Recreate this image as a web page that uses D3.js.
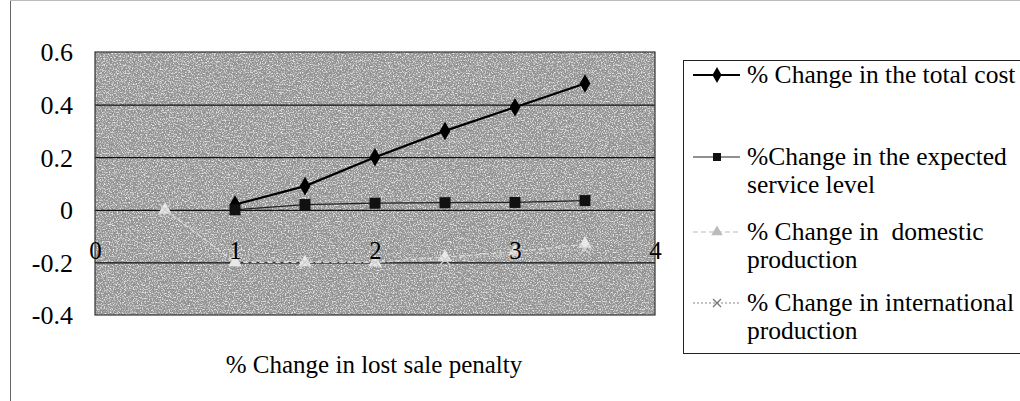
<!DOCTYPE html>
<html>
<head>
<meta charset="utf-8">
<script src="https://cdn.jsdelivr.net/npm/d3@7"></script>
<style>
  html, body { margin: 0; padding: 0; background: #fff; }
  svg { display: block; font-family: "Liberation Serif", "Times New Roman", serif; }
</style>
</head>
<body>
<svg id="chart" width="1020" height="401"></svg>
<script>
// Sensitivity of results to the lost sale penalty
const xValues       = [0.5, 1, 1.5, 2, 2.5, 3, 3.5];
const totalCost     = [null, 0.02, 0.09, 0.2, 0.3, 0.39, 0.48];
const serviceLevel  = [null, 0, 0.02, 0.025, 0.027, 0.028, 0.035];
const domestic      = [0, -0.2, -0.2, -0.2, -0.18, -0.16, -0.13];
const international = [0, -0.17, -0.2, -0.2, -0.19, -0.17, -0.15];

const xTicks = [0, 1, 2, 3, 4];
const yTicks = [-0.4, -0.2, 0, 0.2, 0.4, 0.6];

const seriesNames = [
  ["% Change in the total cost"],
  ["%Change in the expected", "service level"],
  ["% Change in  domestic", "production"],
  ["% Change in international", "production"]
];

const svg = d3.select("#chart");
const plot = { left: 95, right: 655, top: 52, bottom: 315 };

const x = d3.scaleLinear().domain([0, 4]).range([plot.left, plot.right]);
const y = d3.scaleLinear().domain([-0.4, 0.6]).range([plot.bottom, plot.top]);

// speckled gray texture for the plot area
const defs = svg.append("defs");
const f = defs.append("filter").attr("id", "grain")
  .attr("x", 0).attr("y", 0).attr("width", 1).attr("height", 1);
f.append("feTurbulence").attr("type", "fractalNoise")
  .attr("baseFrequency", 0.75).attr("numOctaves", 2).attr("seed", 7).attr("result", "n");
f.append("feColorMatrix").attr("in", "n").attr("type", "matrix")
  .attr("values", "0 0 0 0 0.3  0 0 0 0 0.3  0 0 0 0 0.3  3.2 0 0 0 -1.45")
  .attr("result", "dark");
f.append("feColorMatrix").attr("in", "n").attr("type", "matrix")
  .attr("values", "0 0 0 0 0.82  0 0 0 0 0.82  0 0 0 0 0.82  -3.2 0 0 0 1.75")
  .attr("result", "light");
f.append("feMerge").selectAll("feMergeNode")
  .data(["SourceGraphic", "dark", "light"]).enter()
  .append("feMergeNode").attr("in", d => d);

// outer chart frame edges
svg.append("line").attr("x1", 10.5).attr("x2", 10.5).attr("y1", 0).attr("y2", 401)
  .attr("stroke", "#666").attr("stroke-width", 1);
svg.append("line").attr("x1", 10).attr("x2", 1020).attr("y1", 0.5).attr("y2", 0.5)
  .attr("stroke", "#bbb").attr("stroke-width", 1);

svg.append("rect")
  .attr("x", plot.left).attr("y", plot.top)
  .attr("width", plot.right - plot.left).attr("height", plot.bottom - plot.top)
  .attr("fill", "#8e8e8e").attr("filter", "url(#grain)");

// horizontal gridlines
svg.append("g")
  .attr("transform", `translate(${plot.left},0)`)
  .call(d3.axisLeft(y).tickValues(yTicks.filter(v => v > -0.4 && v < 0.6))
    .tickSize(-(plot.right - plot.left)).tickFormat(""))
  .call(g => g.select(".domain").remove())
  .call(g => g.selectAll("line").attr("stroke", "#111").attr("stroke-width", 1.2));

// plot border
svg.append("rect")
  .attr("x", plot.left).attr("y", plot.top)
  .attr("width", plot.right - plot.left).attr("height", plot.bottom - plot.top)
  .attr("fill", "none").attr("stroke", "#333").attr("stroke-width", 1.2);

// y axis labels
svg.append("g")
  .attr("transform", `translate(${plot.left - 20},0)`)
  .call(d3.axisLeft(y).tickValues(yTicks).tickSize(0).tickFormat(d => d === 0 ? "0" : d.toFixed(1)))
  .call(g => g.select(".domain").remove())
  .call(g => g.selectAll("text")
    .attr("font-family", "Liberation Serif").attr("font-size", 26).attr("fill", "#000")
    .attr("dy", "0.34em").attr("x", -2));

const series = [
  { values: totalCost,     color: "#000",  width: 2.2, dash: null,  marker: "diamond",  mcolor: "#000" },
  { values: serviceLevel,  color: "#222",  width: 1.3, dash: null,  marker: "square",   mcolor: "#111" },
  { values: domestic,      color: "#dcdcdc", width: 1.2, dash: "5,3", marker: "triangle", mcolor: "#e8e8e8" },
  { values: international, color: "#c4c4c4", width: 1.1, dash: "2,2", marker: "cross",    mcolor: "#cfcfcf" }
];

const line = d3.line().defined(d => d[1] !== null).x(d => x(d[0])).y(d => y(d[1]));

function drawMarker(sel, kind, color, size) {
  if (kind === "diamond") {
    sel.append("path").attr("d", d3.symbol(d3.symbolDiamond, size * 9)()).attr("fill", color);
  } else if (kind === "square") {
    sel.append("rect").attr("x", -size / 2).attr("y", -size / 2)
      .attr("width", size).attr("height", size).attr("fill", color);
  } else if (kind === "triangle") {
    sel.append("path").attr("d", d3.symbol(d3.symbolTriangle, size * 7)()).attr("fill", color);
  } else {
    sel.append("path").attr("d", `M${-size/2},${-size/2}L${size/2},${size/2}M${-size/2},${size/2}L${size/2},${-size/2}`)
      .attr("stroke", color).attr("stroke-width", 1.3).attr("fill", "none");
  }
}

// series in legend order, later ones drawn over earlier ones
series.forEach(s => {
  const pts = xValues.map((xv, j) => [xv, s.values[j]]);
  const g = svg.append("g");
  g.append("path").datum(pts).attr("d", line)
    .attr("fill", "none").attr("stroke", s.color).attr("stroke-width", s.width)
    .attr("stroke-dasharray", s.dash);
  g.selectAll("g.m").data(pts.filter(d => d[1] !== null)).enter().append("g")
    .attr("transform", d => `translate(${x(d[0])},${y(d[1])})`)
    .each(function () { drawMarker(d3.select(this), s.marker, s.mcolor, 11); });
});

// x axis labels, drawn along the -0.2 line
svg.append("g")
  .attr("transform", `translate(0,${y(-0.2) - 3})`)
  .call(d3.axisTop(x).tickValues(xTicks).tickSize(0).tickFormat(d3.format("d")))
  .call(g => g.select(".domain").remove())
  .call(g => g.selectAll("text")
    .attr("font-family", "Liberation Serif").attr("font-size", 25).attr("fill", "#000")
    .attr("y", 0).attr("dy", 0));

// axis title
svg.append("text")
  .attr("x", (plot.left + plot.right) / 2 - 1).attr("y", 373)
  .attr("text-anchor", "middle").attr("font-size", 25).attr("fill", "#000")
  .text("% Change in lost sale penalty");

// legend
const legend = { left: 683, top: 60, bottom: 353, right: 1030 };
svg.append("rect")
  .attr("x", legend.left + 0.5).attr("y", legend.top + 0.5)
  .attr("width", legend.right - legend.left).attr("height", legend.bottom - legend.top)
  .attr("fill", "#fff").attr("stroke", "#222").attr("stroke-width", 1);

const entryY = [75, 157, 232, 303];
const lineGap = 28;
series.forEach((s, i) => {
  const g = svg.append("g").attr("transform", `translate(0,${entryY[i]})`);
  g.append("line").attr("x1", 693).attr("x2", 740).attr("y1", 0).attr("y2", 0)
    .attr("stroke", i === 2 ? "#bbb" : (i === 3 ? "#888" : s.color))
    .attr("stroke-width", i === 0 ? 1.8 : 1.2)
    .attr("stroke-dasharray", s.dash);
  const m = g.append("g").attr("transform", "translate(717,0)");
  drawMarker(m, s.marker, i === 2 ? "#bbb" : (i === 3 ? "#777" : s.mcolor), 8);
  const t = g.append("text").attr("x", 747).attr("y", 8)
    .attr("font-size", 25.5).attr("fill", "#000").attr("xml:space", "preserve")
    .style("white-space", "pre");
  seriesNames[i].forEach((ln, k) => {
    t.append("tspan").attr("x", 747).attr("dy", k === 0 ? 0 : lineGap).text(ln);
  });
});
</script>
</body>
</html>
